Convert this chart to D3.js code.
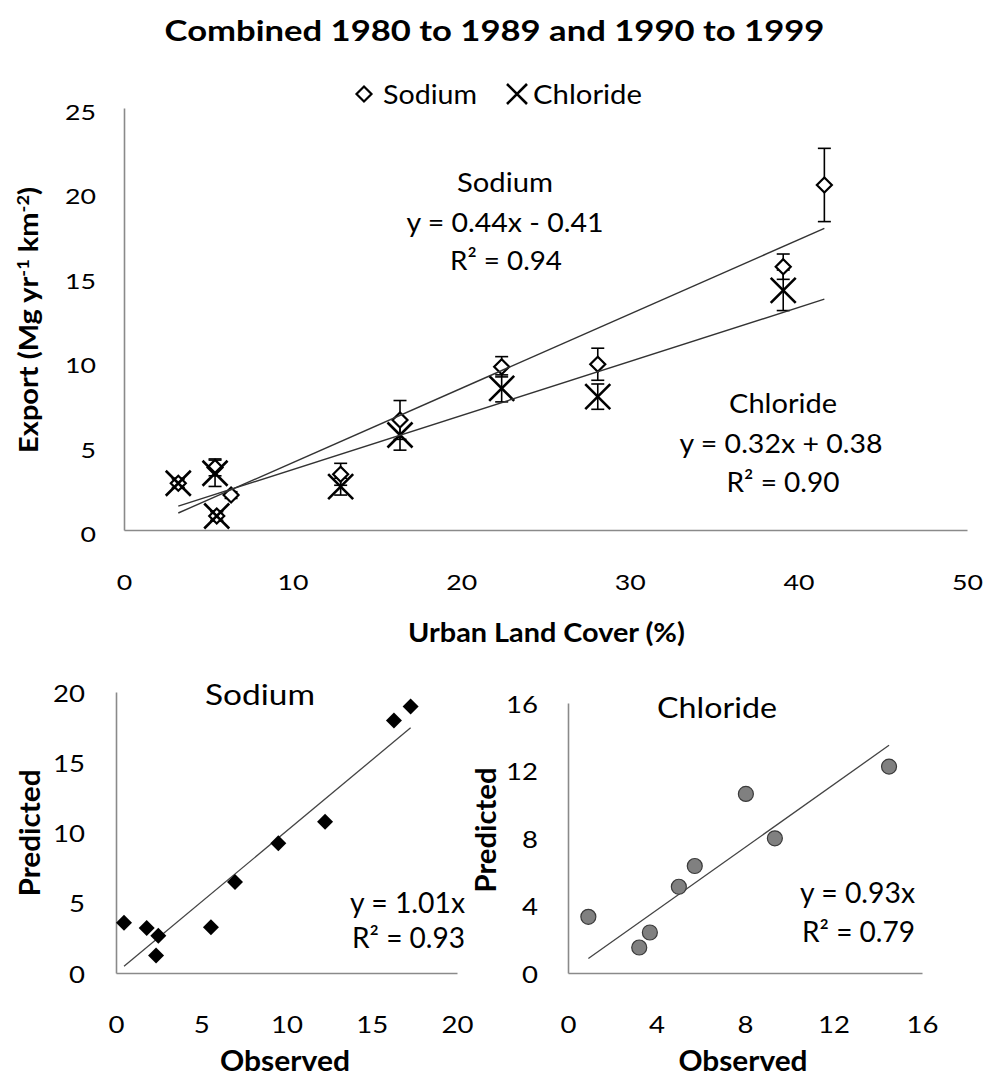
<!DOCTYPE html>
<html><head><meta charset="utf-8">
<script src="https://cdn.jsdelivr.net/npm/d3@7"></script>
<style>html,body{margin:0;padding:0;background:#fff;} svg{display:block;}</style>
</head><body>
<svg id="chart" width="988" height="1078"></svg>
<script>
// ---------- data: top panel ----------
const urbanCover     = [3.22, 5.40, 5.50, 6.35, 12.85, 16.37, 22.40, 28.10, 39.10, 41.54];
const sodiumExport   = [2.77, 3.71, 0.83, 2.07, 3.30, 6.52, 9.67, 9.82, 15.60, 20.44];
const sodiumError    = [0.25, 0.50, 0.25, 0.20, 0.65, 1.15, 0.60, 0.95, 0.75, 2.17];
const chlorideExport = [2.77, 3.36, 0.83, null, 2.57, 5.63, 8.39, 7.90, 14.20, null];
const chlorideError  = [0.30, 0.78, 0.30, null, 0.50, 0.90, 0.80, 0.75, 1.20, null];
const sodiumFit   = [0.44, -0.41];   // slope, intercept
const chlorideFit = [0.32, 0.38];
const topXTicks = [0, 10, 20, 30, 40, 50];
const topYTicks = [0, 5, 10, 15, 20, 25];

// ---------- data: bottom panels ----------
const sodiumObserved    = [0.47, 1.80, 2.48, 2.35, 5.57, 6.98, 9.52, 12.26, 16.30, 17.28];
const sodiumPredicted   = [3.57, 3.21, 2.66, 1.24, 3.26, 6.47, 9.24, 10.76, 17.97, 18.97];
const chlorideObserved  = [0.92, 3.22, 3.70, 5.01, 5.73, 8.04, 9.35, 14.51];
const chloridePredicted = [3.33, 1.51, 2.40, 5.11, 6.34, 10.61, 7.98, 12.23];
const sodiumSlope = 1.01;
const chlorideSlope = 0.93;
const sodiumTicks = [0, 5, 10, 15, 20];
const chlorideTicks = [0, 4, 8, 12, 16];

// ---------- drawing ----------
const FONT = "Lato, 'Open Sans', sans-serif";
const AXIS = "#8a8a8a";
const svg = d3.select("#chart");

function label(parent, o) {
  const g = parent.append("g")
    .attr("transform", `translate(${o.x},${o.y})` + (o.rotate ? ` rotate(${o.rotate})` : ""));
  const t = g.append("text")
    .attr("text-anchor", o.anchor || "middle")
    .attr("font-family", FONT)
    .attr("font-size", o.size)
    .attr("font-weight", o.weight || 400)
    .attr("fill", "#000");
  (o.parts || [{ text: o.text }]).forEach(p => {
    const ts = t.append("tspan").text(p.text);
    if (p.dy) ts.attr("dy", p.dy);
    if (p.size) ts.attr("font-size", p.size);
  });
  if (o.w) {
    const len = t.node().getComputedTextLength();
    t.attr("transform", `scale(${o.w / len},1)`);
  }
  return t;
}

function axisX(scale, ticks, yPos, o) {
  const a = svg.append("g").attr("transform", `translate(0,${yPos})`)
    .call(d3.axisBottom(scale).tickValues(ticks).tickSize(0).tickSizeOuter(0).tickFormat(d3.format("d")));
  a.select(".domain").attr("stroke", AXIS).attr("stroke-width", 1.6);
  const txt = a.selectAll(".tick text")
    .attr("font-family", FONT).attr("font-size", o.size).attr("fill", "#000")
    .attr("dy", 0).attr("y", o.base);
  const ref = txt.filter(d => d === o.refTick).node();
  const sx = o.refWidth / ref.getComputedTextLength();
  txt.attr("transform", `scale(${sx},1)`);
}

function axisY(scale, ticks, xPos, o) {
  const a = svg.append("g").attr("transform", `translate(${xPos},0)`)
    .call(d3.axisLeft(scale).tickValues(ticks).tickSize(0).tickSizeOuter(0).tickFormat(d3.format("d")));
  a.select(".domain").attr("stroke", AXIS).attr("stroke-width", 1.6);
  const txt = a.selectAll(".tick text")
    .attr("font-family", FONT).attr("font-size", o.size).attr("fill", "#000")
    .attr("dy", 0).attr("y", o.base);
  const ref = txt.filter(d => d === o.refTick).node();
  const sx = o.refWidth / ref.getComputedTextLength();
  txt.attr("x", -o.pad / sx).attr("transform", `scale(${sx},1)`);
}

const diamondPath = h => `M0,${-h}L${h},0L0,${h}L${-h},0Z`;
const crossPath = h => `M${-h},${-h}L${h},${h}M${-h},${h}L${h},${-h}`;

// ===== TOP PANEL =====
const x = d3.scaleLinear().domain([0, 50]).range([124, 967]);
const y = d3.scaleLinear().domain([0, 25]).range([530, 108]);

axisX(x, topXTicks, 530, { size: 22, base: 60, refTick: 20, refWidth: 31 });
axisY(y, topYTicks, 124, { size: 22, base: 11.5, pad: 28, refTick: 25, refWidth: 31 });

label(svg, { x: 494.5, y: 41, size: 28, weight: 700, w: 660, text: "Combined 1980 to 1989 and 1990 to 1999" });

// legend
svg.append("path").attr("d", diamondPath(7.5)).attr("transform", "translate(364,94)")
  .attr("fill", "#fff").attr("stroke", "#000").attr("stroke-width", 2.2);
label(svg, { x: 383, y: 104, size: 26, anchor: "start", w: 94, text: "Sodium" });
svg.append("path").attr("d", crossPath(10)).attr("transform", "translate(517,94)")
  .attr("fill", "none").attr("stroke", "#000").attr("stroke-width", 2.6);
label(svg, { x: 533, y: 104, size: 26, anchor: "start", w: 109, text: "Chloride" });

// axis titles
label(svg, {
  x: 38, y: 320, rotate: -90, size: 27, weight: 700, w: 266,
  parts: [{ text: "Export (Mg yr" }, { text: "-1", dy: -9, size: 17 }, { text: " km", dy: 9 },
          { text: "-2", dy: -9, size: 17 }, { text: ")", dy: 9 }]
});
label(svg, { x: 546.5, y: 642, size: 27, weight: 700, w: 277, text: "Urban Land Cover (%)" });

const sodiumPts = urbanCover.map((u, i) => ({ u, v: sodiumExport[i], e: sodiumError[i] }));
const chloridePts = urbanCover.map((u, i) => ({ u, v: chlorideExport[i], e: chlorideError[i] }))
  .filter(d => d.v !== null);

function errorBars(pts) {
  const g = svg.append("g").attr("stroke", "#000").attr("stroke-width", 1.6).attr("fill", "none");
  pts.forEach(d => {
    const cx = x(d.u), y1 = y(d.v + d.e), y2 = y(d.v - d.e);
    g.append("line").attr("x1", cx).attr("x2", cx).attr("y1", y1).attr("y2", y2);
    g.append("line").attr("x1", cx - 6.5).attr("x2", cx + 6.5).attr("y1", y1).attr("y2", y1);
    g.append("line").attr("x1", cx - 6.5).attr("x2", cx + 6.5).attr("y1", y2).attr("y2", y2);
  });
}
errorBars(sodiumPts);
errorBars(chloridePts);

svg.append("g").selectAll("path").data(sodiumPts).join("path")
  .attr("d", diamondPath(7.5))
  .attr("transform", d => `translate(${x(d.u)},${y(d.v)})`)
  .attr("fill", "#fff").attr("stroke", "#000").attr("stroke-width", 2.2);
svg.append("g").selectAll("path").data(chloridePts).join("path")
  .attr("d", crossPath(12.5))
  .attr("transform", d => `translate(${x(d.u)},${y(d.v)})`)
  .attr("fill", "none").attr("stroke", "#000").attr("stroke-width", 2.6);

// trend lines
const uExt = d3.extent(urbanCover);
[sodiumFit, chlorideFit].forEach(f => {
  svg.append("line")
    .attr("x1", x(uExt[0])).attr("y1", y(f[0] * uExt[0] + f[1]))
    .attr("x2", x(uExt[1])).attr("y2", y(f[0] * uExt[1] + f[1]))
    .attr("stroke", "#333").attr("stroke-width", 1.4);
});

// equations
label(svg, { x: 505, y: 192, size: 27, w: 96, text: "Sodium" });
label(svg, { x: 505, y: 232, size: 27, w: 197, text: "y = 0.44x - 0.41" });
label(svg, { x: 506, y: 270, size: 27, w: 112, text: "R² = 0.94" });
label(svg, { x: 783, y: 413, size: 27, w: 108, text: "Chloride" });
label(svg, { x: 781, y: 453, size: 27, w: 203, text: "y = 0.32x + 0.38" });
label(svg, { x: 783, y: 492, size: 27, w: 113, text: "R² = 0.90" });

// ===== BOTTOM LEFT: SODIUM =====
const xs = d3.scaleLinear().domain([0, 20]).range([116, 457]);
const ys = d3.scaleLinear().domain([0, 20]).range([973, 692]);
axisX(xs, sodiumTicks, 973, { size: 24, base: 60, refTick: 20, refWidth: 32 });
axisY(ys, sodiumTicks, 116, { size: 24, base: 9, pad: 31, refTick: 20, refWidth: 32 });

const sodExt = d3.extent(sodiumObserved);
svg.append("line")
  .attr("x1", xs(sodExt[0])).attr("y1", ys(sodiumSlope * sodExt[0]))
  .attr("x2", xs(sodExt[1])).attr("y2", ys(sodiumSlope * sodExt[1]))
  .attr("stroke", "#444").attr("stroke-width", 1.3);
svg.append("g").selectAll("path").data(sodiumObserved).join("path")
  .attr("d", diamondPath(8))
  .attr("transform", (d, i) => `translate(${xs(d)},${ys(sodiumPredicted[i])})`)
  .attr("fill", "#000");

label(svg, { x: 260, y: 705, size: 28, w: 110, text: "Sodium" });
label(svg, { x: 465, y: 913, size: 28, anchor: "end", w: 115, text: "y = 1.01x" });
label(svg, { x: 465, y: 948, size: 28, anchor: "end", w: 113, text: "R² = 0.93" });
label(svg, { x: 40, y: 833, rotate: -90, size: 28, weight: 700, w: 127, text: "Predicted" });
label(svg, { x: 285, y: 1071, size: 28, weight: 700, w: 130, text: "Observed" });

// ===== BOTTOM RIGHT: CHLORIDE =====
const xc = d3.scaleLinear().domain([0, 16]).range([568, 922]);
const yc = d3.scaleLinear().domain([0, 16]).range([973, 703]);
axisX(xc, chlorideTicks, 973, { size: 24, base: 60, refTick: 16, refWidth: 32 });
axisY(yc, chlorideTicks, 568, { size: 24, base: 9, pad: 30, refTick: 16, refWidth: 32 });

const chlExt = d3.extent(chlorideObserved);
svg.append("line")
  .attr("x1", xc(chlExt[0])).attr("y1", yc(chlorideSlope * chlExt[0]))
  .attr("x2", xc(chlExt[1])).attr("y2", yc(chlorideSlope * chlExt[1]))
  .attr("stroke", "#444").attr("stroke-width", 1.3);
svg.append("g").selectAll("circle").data(chlorideObserved).join("circle")
  .attr("cx", d => xc(d)).attr("cy", (d, i) => yc(chloridePredicted[i])).attr("r", 7.5)
  .attr("fill", "#808080").attr("stroke", "#3a3a3a").attr("stroke-width", 1.2);

label(svg, { x: 717, y: 718, size: 28, w: 120, text: "Chloride" });
label(svg, { x: 915, y: 903, size: 28, anchor: "end", w: 115, text: "y = 0.93x" });
label(svg, { x: 915, y: 942, size: 28, anchor: "end", w: 113, text: "R² = 0.79" });
label(svg, { x: 496, y: 830, rotate: -90, size: 28, weight: 700, w: 125, text: "Predicted" });
label(svg, { x: 743, y: 1071, size: 28, weight: 700, w: 129, text: "Observed" });
</script>
</body></html>
